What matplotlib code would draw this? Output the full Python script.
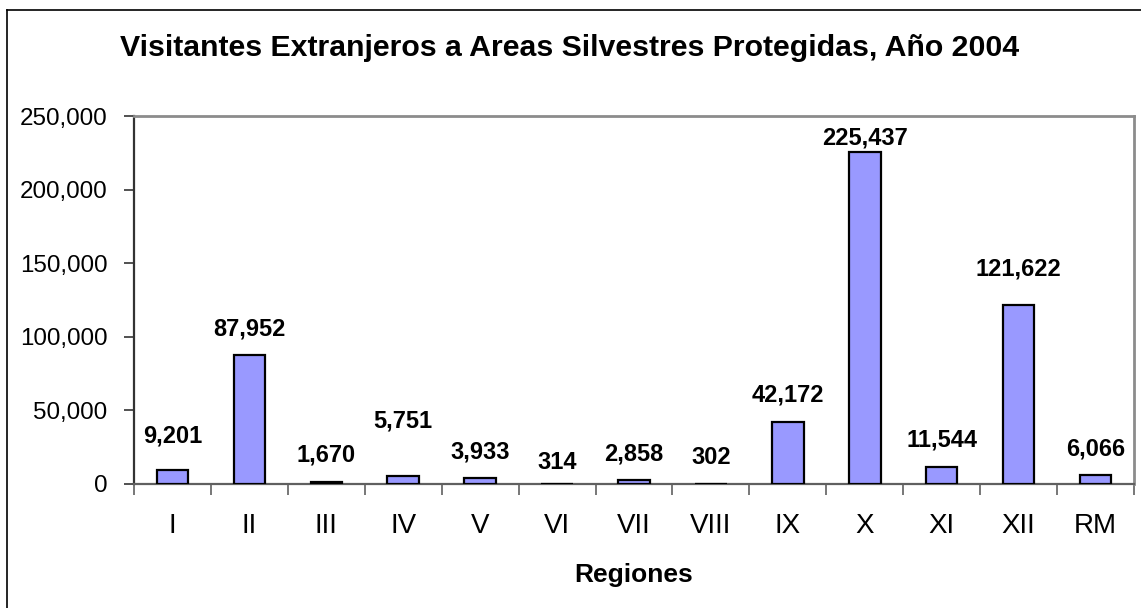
import matplotlib.pyplot as plt
from matplotlib.lines import Line2D
from matplotlib.ticker import FuncFormatter, MultipleLocator

plt.rcParams['font.family'] = ['Liberation Sans', 'DejaVu Sans']

# Datos
regiones = ["I", "II", "III", "IV", "V", "VI", "VII", "VIII", "IX", "X", "XI", "XII", "RM"]
visitantes = [9201, 87952, 1670, 5751, 3933, 314, 2858, 302, 42172, 225437, 11544, 121622, 6066]
# separacion de cada etiqueta sobre su barra (pixeles), como en el original
separacion = [34, 26, 27, 55, 26, 21, 26, 26, 27, 14, 27, 36, 26]

fig = plt.figure(figsize=(11.41, 6.08), dpi=100)
ax = fig.add_axes([134 / 1141, 1 - 484 / 608, 1000 / 1141, 368 / 608])

x = list(range(len(regiones)))
barras = ax.bar(x, visitantes, width=0.41, color='#9999FF', edgecolor='black', linewidth=1.6, zorder=3)

for xi, v, s in zip(x, visitantes, separacion):
    ax.annotate(f"{v:,}", (xi, v), xytext=(0, s), textcoords='offset pixels',
                ha='center', va='center', fontsize=17, fontweight='bold')

ax.set_xlim(-0.5, len(regiones) - 0.5)
ax.set_ylim(0, 250000)
ax.yaxis.set_major_locator(MultipleLocator(50000))
ax.yaxis.set_major_formatter(FuncFormatter(lambda v, p: f"{int(v):,}"))
ax.tick_params(axis='y', direction='out', length=7, width=1.2, color='#333333', labelsize=17.4, pad=12)

ax.set_xticks(x)
ax.set_xticklabels(regiones)
ax.set_xticks([i - 0.5 for i in range(len(regiones) + 1)], minor=True)
ax.tick_params(axis='x', which='major', length=0, labelsize=20, pad=21)
ax.tick_params(axis='x', which='minor', direction='out', length=8, width=1.2, color='#606060')

ax.spines['left'].set_color('#333333')
ax.spines['left'].set_linewidth(1.6)
ax.spines['bottom'].set_color('#606060')
ax.spines['bottom'].set_linewidth(1.6)
for lado in ['top', 'right']:
    ax.spines[lado].set_color('#8c8c8c')
    ax.spines[lado].set_linewidth(2)

ax.set_xlabel("Regiones", fontsize=19, fontweight='bold', labelpad=17)
fig.text(0.499, 1 - 48 / 608, "Visitantes Extranjeros a Areas Silvestres Protegidas, Año 2004",
         ha='center', va='center', fontsize=21.8, fontweight='bold')

# marco del grafico (solo se ven los bordes izquierdo y superior)
fig.add_artist(Line2D([7 / 1141, 7 / 1141], [0, 1 - 10 / 608], color='black', linewidth=1.2))
fig.add_artist(Line2D([7 / 1141, 1], [1 - 10 / 608, 1 - 10 / 608], color='black', linewidth=1.2))

plt.savefig("out.png", dpi=100)
